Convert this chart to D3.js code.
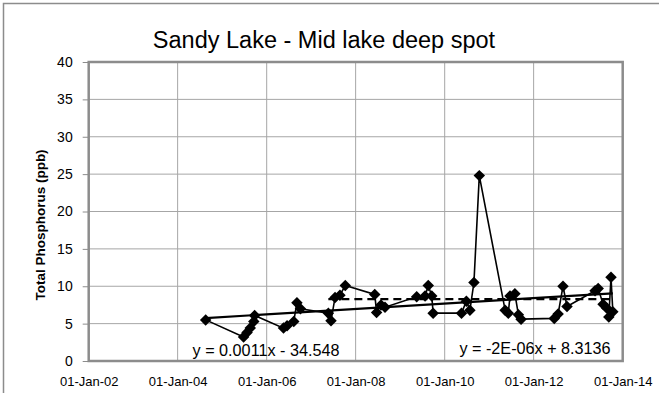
<!DOCTYPE html>
<html>
<head>
<meta charset="utf-8">
<script src="https://cdn.jsdelivr.net/npm/d3@7"></script>
<style>
  body { margin: 0; background: #fff; }
  svg { display: block; font-family: "Liberation Sans", Arial, sans-serif; }
</style>
</head>
<body>
<svg id="chart" width="659" height="393"></svg>
<script>
// sample dates and total phosphorus (ppb)
const sampleDates = [
  "2004-08-18",
  "2005-06-25", "2005-07-24", "2005-08-19", "2005-09-17", "2005-09-24",
  "2006-05-19", "2006-06-17", "2006-08-11", "2006-09-06", "2006-10-05",
  "2007-05-22", "2007-06-13", "2007-07-16", "2007-08-25", "2007-10-08",
  "2008-06-06", "2008-06-21", "2008-07-27", "2008-08-29",
  "2009-05-16", "2009-07-24", "2009-08-19", "2009-09-17", "2009-09-28",
  "2010-05-19", "2010-06-28", "2010-07-27", "2010-08-29", "2010-10-12",
  "2011-05-12", "2011-06-07", "2011-06-21", "2011-07-31", "2011-08-29", "2011-09-20",
  "2012-06-18", "2012-07-20", "2012-08-29", "2012-10-01",
  "2013-05-19", "2013-06-14", "2013-07-24", "2013-08-22", "2013-09-09", "2013-09-27", "2013-10-12"
];
const phosphorus = [
  5.5,
  3.2, 3.8, 4.4, 5.3, 6.1,
  4.4, 4.7, 5.3, 7.8, 7.0,
  6.4, 5.4, 8.5, 8.8, 10.1,
  8.9, 6.5, 7.5, 7.2,
  8.6, 8.7, 10.1, 8.7, 6.4,
  6.4, 8.0, 6.8, 10.5, 24.8,
  6.8, 6.4, 8.7, 9.0, 6.2, 5.6,
  5.7, 6.3, 10.0, 7.3,
  9.4, 9.7, 7.6, 7.1, 5.9, 11.2, 6.6
];
// second trendline only covers samples from this date on
const recentStart = "2007-01-01";

const xTicks = ["2002-01-01", "2004-01-01", "2006-01-01", "2008-01-01", "2010-01-01", "2012-01-01", "2014-01-01"];
const yTicks = [0, 5, 10, 15, 20, 25, 30, 35, 40];
const equations = ["y = 0.0011x - 34.548", "y = -2E-06x + 8.3136"];

const parse = d3.timeParse("%Y-%m-%d");
const fmt = d3.timeFormat("%d-%b-%y");
const data = sampleDates.map((d, i) => ({ date: parse(d), value: phosphorus[i] }));

const margin = { top: 62, right: 36.3, bottom: 32, left: 88.7 };
const width = 659, height = 393;
const svg = d3.select("#chart");

// outer chart frame
svg.append("rect")
  .attr("x", 3.5).attr("y", 3.5)
  .attr("width", width + 10).attr("height", height + 10)
  .attr("fill", "none").attr("stroke", "#8c8c8c").attr("stroke-width", 1.5);

const x = d3.scaleTime()
  .domain([parse(xTicks[0]), parse(xTicks[xTicks.length - 1])])
  .range([margin.left, width - margin.right]);
const y = d3.scaleLinear()
  .domain([0, 40])
  .range([height - margin.bottom, margin.top]);

// gridlines
svg.append("g")
  .selectAll("line")
  .data(yTicks)
  .join("line")
  .attr("x1", x.range()[0]).attr("x2", x.range()[1])
  .attr("y1", d => y(d)).attr("y2", d => y(d))
  .attr("stroke", "#a6a6a6").attr("stroke-width", 1);
svg.append("g")
  .selectAll("line")
  .data(xTicks.map(parse))
  .join("line")
  .attr("x1", d => x(d)).attr("x2", d => x(d))
  .attr("y1", y.range()[0]).attr("y2", y.range()[1])
  .attr("stroke", "#a6a6a6").attr("stroke-width", 1);

// y axis
const yAxis = svg.append("g")
  .attr("transform", `translate(${margin.left},0)`)
  .call(d3.axisLeft(y).tickValues(yTicks).tickSize(6).tickPadding(10));
yAxis.select(".domain").remove();
yAxis.selectAll("line").attr("stroke", "#8c8c8c");
yAxis.selectAll("text").attr("font-size", 14).attr("fill", "#000")
  .attr("font-family", "Liberation Sans, Arial, sans-serif");

// x axis
const xAxis = svg.append("g")
  .attr("transform", `translate(0,${y(0)})`)
  .call(d3.axisBottom(x).tickValues(xTicks.map(parse)).tickFormat(fmt).tickSize(0).tickPadding(16));
xAxis.select(".domain").remove();
xAxis.selectAll("text").attr("font-size", 13).attr("fill", "#000")
  .attr("font-family", "Liberation Sans, Arial, sans-serif");

// plot area border
svg.append("rect")
  .attr("x", x.range()[0]).attr("y", y.range()[1])
  .attr("width", x.range()[1] - x.range()[0])
  .attr("height", y.range()[0] - y.range()[1])
  .attr("fill", "none").attr("stroke", "#8c8c8c").attr("stroke-width", 2.5);

// least squares fit, x in days like the spreadsheet
function fit(points) {
  const xs = points.map(p => p.date.getTime() / 864e5);
  const ys = points.map(p => p.value);
  const mx = d3.mean(xs), my = d3.mean(ys);
  const slope = d3.sum(xs, (v, i) => (v - mx) * (ys[i] - my)) / d3.sum(xs, v => (v - mx) * (v - mx));
  const first = points[0].date, last = points[points.length - 1].date;
  const at = dt => my + slope * (dt.getTime() / 864e5 - mx);
  return [{ date: first, value: at(first) }, { date: last, value: at(last) }];
}

const line = d3.line().x(d => x(d.date)).y(d => y(d.value));

// data line
svg.append("path")
  .datum(data)
  .attr("d", line)
  .attr("fill", "none").attr("stroke", "#000").attr("stroke-width", 1.6);

// trendlines
svg.append("path")
  .datum(fit(data))
  .attr("d", line)
  .attr("fill", "none").attr("stroke", "#000").attr("stroke-width", 2.2);
svg.append("path")
  .datum(fit(data.filter(d => d.date >= parse(recentStart))))
  .attr("d", line)
  .attr("fill", "none").attr("stroke", "#000").attr("stroke-width", 2.2)
  .attr("stroke-dasharray", "8,5");

// diamond markers
svg.append("g")
  .selectAll("path")
  .data(data)
  .join("path")
  .attr("d", d3.symbol(d3.symbolSquare, 66))
  .attr("transform", d => `translate(${x(d.date)},${y(d.value)}) rotate(45)`)
  .attr("fill", "#000");

// trendline equations
svg.append("text")
  .attr("x", 266).attr("y", 356)
  .attr("text-anchor", "middle").attr("font-size", 16.2)
  .text(equations[0]);
svg.append("text")
  .attr("x", 535).attr("y", 354)
  .attr("text-anchor", "middle").attr("font-size", 16.2)
  .text(equations[1]);

// title
svg.append("text")
  .attr("x", 324).attr("y", 48)
  .attr("text-anchor", "middle").attr("font-size", 23.5)
  .text("Sandy Lake - Mid lake deep spot");

// y axis title
svg.append("text")
  .attr("transform", "translate(45,225) rotate(-90)")
  .attr("text-anchor", "middle").attr("font-size", 13.5).attr("font-weight", "bold")
  .text("Total Phosphorus (ppb)");
</script>
</body>
</html>
